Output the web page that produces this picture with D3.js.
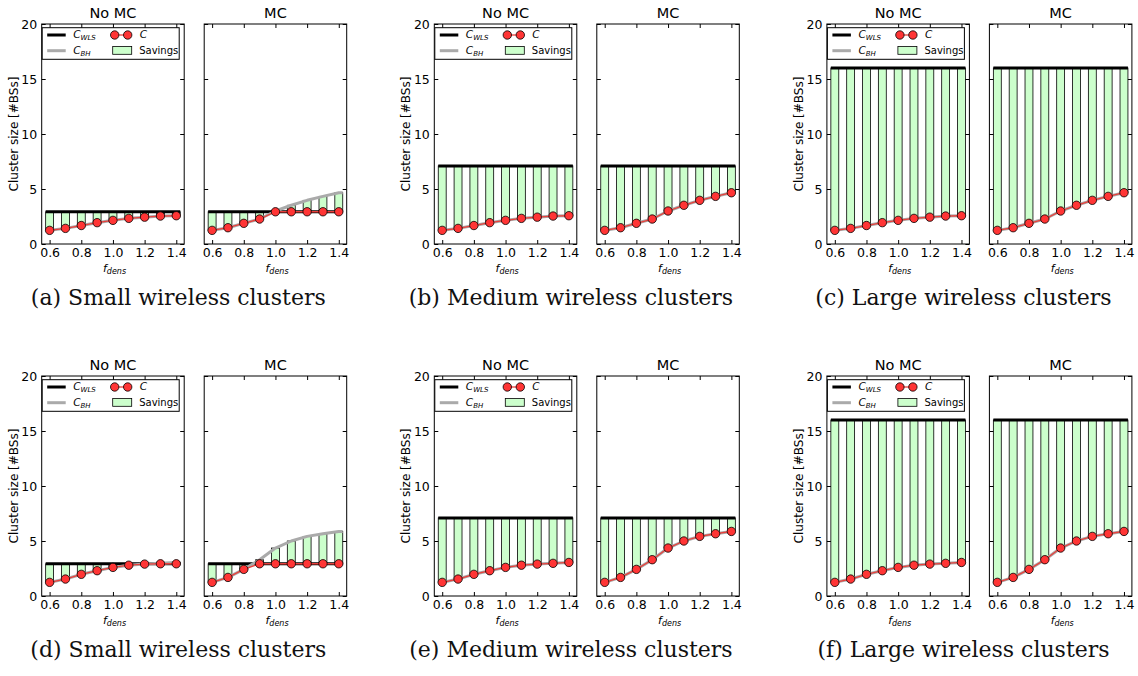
<!DOCTYPE html>
<html>
<head>
<meta charset="utf-8">
<script src="https://cdn.jsdelivr.net/npm/d3@7"></script>
<style>
  body { margin: 0; background: #fff; }
  svg { display: block; }
</style>
</head>
<body>
<svg id="chart" width="1138" height="676"></svg>
<script>
// ---- data ----------------------------------------------------------------
const fdens = [0.6, 0.7, 0.8, 0.9, 1.0, 1.1, 1.2, 1.3, 1.4];
const xTicks = [0.6, 0.8, 1.0, 1.2, 1.4];
const yTicks = [0, 5, 10, 15, 20];
const panelTitles = ["No MC", "MC"];
const captionsTop = ["(a) Small wireless clusters", "(b) Medium wireless clusters", "(c) Large wireless clusters"];
const captionsBottom = ["(d) Small wireless clusters", "(e) Medium wireless clusters", "(f) Large wireless clusters"];

// wireless cluster size C_WLS for small / medium / large clusters
const cWls = [2.93, 7.1, 16];

// backhaul-limited cluster size C_BH (top row)
const cBhNoMcTop = [1.24, 1.42, 1.68, 1.94, 2.15, 2.33, 2.44, 2.54, 2.57];
const cBhMcTop   = [1.24, 1.48, 1.88, 2.27, 3.0, 3.52, 3.97, 4.33, 4.66];
// resulting cluster size C for small clusters (top row)
const cSmallNoMcTop = [1.24, 1.42, 1.68, 1.94, 2.15, 2.33, 2.44, 2.54, 2.57];
const cSmallMcTop   = [1.24, 1.48, 1.88, 2.27, 2.93, 2.93, 2.93, 2.93, 2.93];

// backhaul-limited cluster size C_BH (bottom row)
const cBhNoMcBottom = [1.24, 1.54, 1.97, 2.3, 2.6, 2.8, 2.9, 2.97, 3.05];
const cBhMcBottom   = [1.24, 1.69, 2.42, 3.3, 4.36, 5.0, 5.42, 5.66, 5.87];
// resulting cluster size C for small clusters (bottom row)
const cSmallNoMcBottom = [1.24, 1.54, 1.97, 2.3, 2.6, 2.8, 2.9, 2.93, 2.93];
const cSmallMcBottom   = [1.24, 1.69, 2.42, 2.93, 2.93, 2.93, 2.93, 2.93, 2.93];

// ---- layout ----------------------------------------------------------------
const subLeft0 = 41.7, subStep = 392.6;
const panelW = 142.5, panelH = 220, panelGap = 20;
const rowTops = [24, 376];
const barWidth = 0.05;

const svg = d3.select("#chart");
const sans = "'DejaVu Sans', sans-serif";

const x = d3.scaleLinear().domain([0.55, 1.45]).range([0, panelW]);
const y = d3.scaleLinear().domain([0, 20]).range([panelH, 0]);

const rows = [
  { top: rowTops[0], captions: captionsTop,
    noMc: { bh: cBhNoMcTop, c: [cSmallNoMcTop, cBhNoMcTop, cBhNoMcTop] },
    mc:   { bh: cBhMcTop,   c: [cSmallMcTop, cBhMcTop, cBhMcTop] } },
  { top: rowTops[1], captions: captionsBottom,
    noMc: { bh: cBhNoMcBottom, c: [cSmallNoMcBottom, cBhNoMcBottom, cBhNoMcBottom] },
    mc:   { bh: cBhMcBottom,   c: [cSmallMcBottom, cBhMcBottom, cBhMcBottom] } }
];

function subscripted(sel, main, sub, size, subSize, subDy) {
  sel.append("tspan").attr("font-style", "italic").attr("font-size", size).text(main);
  sel.append("tspan").attr("font-style", "italic").attr("font-size", subSize)
    .attr("dy", subDy).text(sub);
}

function drawPanel(g, wls, bh, c, title, isFirst) {
  const data = fdens.map((f, i) => ({ f, bh: bh[i], c: c[i] }));

  // savings bars: from C up to the larger of C_WLS and C_BH
  g.append("g").selectAll("rect").data(data).join("rect")
    .attr("x", d => x(d.f - barWidth / 2))
    .attr("width", x(barWidth) - x(0))
    .attr("y", d => y(Math.max(wls, d.bh)))
    .attr("height", d => y(d.c) - y(Math.max(wls, d.bh)))
    .attr("fill", "#ccffcc")
    .attr("stroke", "#000")
    .attr("stroke-width", 0.8);

  const x0 = fdens[0] - barWidth / 2, x1 = fdens[fdens.length - 1] + barWidth / 2;

  // C_WLS
  g.append("line")
    .attr("x1", x(x0)).attr("x2", x(x1))
    .attr("y1", y(wls)).attr("y2", y(wls))
    .attr("stroke", "#000").attr("stroke-width", 3);

  // C_BH
  const bhPts = [[x0, bh[0]], ...data.map(d => [d.f, d.bh]), [x1, bh[bh.length - 1]]];
  g.append("path")
    .attr("d", d3.line().x(p => x(p[0])).y(p => y(p[1]))(bhPts))
    .attr("fill", "none").attr("stroke", "#aaaaaa").attr("stroke-width", 3)
    .attr("stroke-linejoin", "round");

  // C
  g.append("path")
    .attr("d", d3.line().x(d => x(d.f)).y(d => y(d.c))(data))
    .attr("fill", "none").attr("stroke", "#e8403c").attr("stroke-width", 1.3);
  g.append("g").selectAll("circle").data(data).join("circle")
    .attr("cx", d => x(d.f)).attr("cy", d => y(d.c)).attr("r", 4.2)
    .attr("fill", "#ff3535").attr("stroke", "#000").attr("stroke-width", 0.8);

  // axes with inward ticks on all four sides
  const fmtX = d3.format(".1f");
  const ax = [
    g.append("g").attr("transform", `translate(0,${panelH})`)
      .call(d3.axisBottom(x).tickValues(xTicks).tickSize(-4).tickPadding(4.5).tickFormat(fmtX)),
    g.append("g")
      .call(d3.axisTop(x).tickValues(xTicks).tickSize(-4).tickFormat("")),
    g.append("g")
      .call(d3.axisLeft(y).tickValues(yTicks).tickSize(-4).tickPadding(4.5)
        .tickFormat(isFirst ? d3.format("d") : "")),
    g.append("g").attr("transform", `translate(${panelW},0)`)
      .call(d3.axisRight(y).tickValues(yTicks).tickSize(-4).tickFormat(""))
  ];
  ax.forEach(a => {
    a.select(".domain").remove();
    a.selectAll(".tick line").attr("stroke", "#000");
    a.selectAll("text").attr("font-family", sans).attr("font-size", 12.5).attr("fill", "#000");
  });

  g.append("rect").attr("width", panelW).attr("height", panelH)
    .attr("fill", "none").attr("stroke", "#000").attr("stroke-width", 1);

  // title
  g.append("text").attr("x", panelW / 2).attr("y", -6)
    .attr("text-anchor", "middle").attr("font-family", sans).attr("font-size", 14.5)
    .text(title);

  // x label f_dens
  const xl = g.append("text").attr("x", panelW / 2 - 10).attr("y", panelH + 27.5)
    .attr("font-family", sans).attr("fill", "#000");
  subscripted(xl, "f", "dens", 11, 8, 2.5);
}

function drawLegend(g) {
  const lg = g.append("g").attr("transform", "translate(0.5,3.7)");
  lg.append("rect").attr("width", 137).attr("height", 31.6)
    .attr("fill", "#fff").attr("stroke", "#000").attr("stroke-width", 1);
  const r1 = 7.3, r2 = 23;
  lg.append("line").attr("x1", 5).attr("x2", 23.5).attr("y1", r1).attr("y2", r1)
    .attr("stroke", "#000").attr("stroke-width", 3);
  lg.append("line").attr("x1", 5).attr("x2", 23.5).attr("y1", r2).attr("y2", r2)
    .attr("stroke", "#aaaaaa").attr("stroke-width", 3);
  const t1 = lg.append("text").attr("x", 31).attr("y", r1 + 3.5).attr("font-family", sans);
  subscripted(t1, "C", "WLS", 10.5, 7, 2);
  const t2 = lg.append("text").attr("x", 31).attr("y", r2 + 3.5).attr("font-family", sans);
  subscripted(t2, "C", "BH", 10.5, 7, 2);

  lg.append("line").attr("x1", 72.5).attr("x2", 85.5).attr("y1", r1).attr("y2", r1)
    .attr("stroke", "#e8403c").attr("stroke-width", 1.3);
  [72.5, 85.5].forEach(cx => lg.append("circle").attr("cx", cx).attr("cy", r1).attr("r", 4.2)
    .attr("fill", "#ff3535").attr("stroke", "#000").attr("stroke-width", 0.8));
  lg.append("text").attr("x", 97.5).attr("y", r1 + 3.5).attr("font-family", sans)
    .attr("font-style", "italic").attr("font-size", 10.5).text("C");

  lg.append("rect").attr("x", 70.5).attr("y", r2 - 4.2).attr("width", 19).attr("height", 7.8)
    .attr("fill", "#ccffcc").attr("stroke", "#000").attr("stroke-width", 0.8);
  lg.append("text").attr("x", 97).attr("y", r2 + 3.5).attr("font-family", sans)
    .attr("font-size", 10).text("Savings");
}

rows.forEach(row => {
  [0, 1, 2].forEach(k => {
    const left = subLeft0 + k * subStep;
    const wls = cWls[k];

    const gNo = svg.append("g").attr("transform", `translate(${left},${row.top})`);
    drawPanel(gNo, wls, row.noMc.bh, row.noMc.c[k], panelTitles[0], true);
    drawLegend(gNo);

    const gMc = svg.append("g").attr("transform", `translate(${left + panelW + panelGap},${row.top})`);
    drawPanel(gMc, wls, row.mc.bh, row.mc.c[k], panelTitles[1], false);

    // y label
    svg.append("text")
      .attr("transform", `translate(${left - 28},${row.top + panelH / 2}) rotate(-90)`)
      .attr("text-anchor", "middle").attr("dominant-baseline", "central")
      .attr("font-family", sans).attr("font-size", 12)
      .text("Cluster size [#BSs]");

    // caption
    svg.append("text")
      .attr("x", left + 136.6).attr("y", row.top + 281)
      .attr("text-anchor", "middle")
      .attr("font-family", "'DejaVu Serif', serif").attr("font-size", 22)
      .attr("fill", "#111")
      .text(row.captions[k]);
  });
});
</script>
</body>
</html>
